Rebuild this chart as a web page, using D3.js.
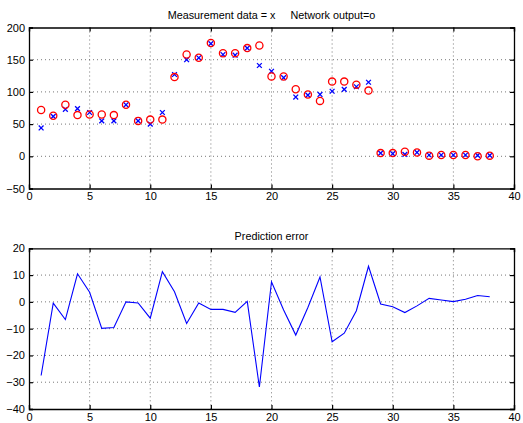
<!DOCTYPE html>
<html>
<head>
<meta charset="utf-8">
<script src="https://cdn.jsdelivr.net/npm/d3@7"></script>
<style>
  body { margin: 0; background: #fff; }
  text { font-family: "Liberation Sans", Arial, sans-serif; }
</style>
</head>
<body>
<div id="container"></div>
<script>
// data
const samples = d3.range(1, 39);
const measured = [44, 62, 73, 74, 68, 55, 55, 80, 55, 50, 68, 127, 150, 153, 175, 158, 157, 168, 141, 132,
  122, 92, 95, 96, 101, 104, 108, 115, 5, 4, 3, 6, 2, 2, 2, 2, 1.5, 1.5];
const network = [72, 63, 80, 64, 65, 65, 64, 80, 55, 57, 57, 123, 158, 153, 176, 160, 160, 168, 172, 124,
  124, 104, 96, 86, 116, 116, 111, 102, 5, 5, 7, 6, 1, 2, 2, 2, 0, 1];
const predError = [-27.5, -0.5, -6.6, 10.5, 3.6, -9.9, -9.6, 0, -0.4, -6.1, 11.3, 3.8, -8.1, -0.4, -2.8, -2.8,
  -3.9, 0.2, -31.8, 7.5, -3, -12.4, -2.1, 9.3, -14.9, -11.7, -3.3, 13.3, -0.8, -1.8, -4, -1.5, 1.3, 0.7,
  0.1, 1, 2.4, 1.9];
const xTicks = [0, 5, 10, 15, 20, 25, 30, 35, 40];
const topTicks = [-50, 0, 50, 100, 150, 200];
const bottomTicks = [-40, -30, -20, -10, 0, 10, 20];

const width = 523, height = 423;
const svg = d3.select("#container").append("svg")
    .attr("width", width).attr("height", height);

const left = 29, right = 514;

function drawPanel(top, bottom, yDomain, yTicks, title, titleY) {
    const x = d3.scaleLinear().domain([0, 40]).range([left, right]);
    const y = d3.scaleLinear().domain(yDomain).range([bottom, top]);
    const g = svg.append("g");

    // dotted grid
    g.selectAll(".vgrid").data(xTicks.slice(1, -1)).enter().append("line")
        .attr("x1", d => x(d)).attr("x2", d => x(d))
        .attr("y1", top).attr("y2", bottom)
        .attr("stroke", "#555").attr("stroke-width", 0.8).attr("stroke-dasharray", "1,3");
    g.selectAll(".hgrid").data(yTicks.slice(1, -1)).enter().append("line")
        .attr("x1", left).attr("x2", right)
        .attr("y1", d => y(d)).attr("y2", d => y(d))
        .attr("stroke", "#555").attr("stroke-width", 0.8).attr("stroke-dasharray", "1,3");

    // axes with inward ticks
    g.append("g").attr("transform", `translate(0,${bottom})`)
        .call(d3.axisBottom(x).tickValues(xTicks).tickSize(-4).tickPadding(4));
    g.append("g").attr("transform", `translate(0,${top})`)
        .call(d3.axisTop(x).tickValues(xTicks).tickSize(-4).tickFormat(""));
    g.append("g").attr("transform", `translate(${left},0)`)
        .call(d3.axisLeft(y).tickValues(yTicks).tickSize(-4).tickPadding(4));
    g.append("g").attr("transform", `translate(${right},0)`)
        .call(d3.axisRight(y).tickValues(yTicks).tickSize(-4).tickFormat(""));
    g.selectAll(".domain").attr("stroke", "#000").attr("stroke-width", 1.3);
    g.selectAll(".tick line").attr("stroke", "#000").attr("stroke-width", 1.2);
    g.selectAll(".tick text").attr("font-size", "11px").attr("fill", "#000")
        .attr("font-family", "Liberation Sans, Arial, sans-serif");

    svg.append("text").attr("x", (left + right) / 2).attr("y", titleY)
        .attr("text-anchor", "middle").attr("font-size", "10.8px").attr("fill", "#000")
        .text(title);
    return { x, y, g };
}

// top panel: measurement vs network output
const p1 = drawPanel(27.5, 188.5, [-50, 200], topTicks,
    "Measurement data = x\u00a0\u00a0\u00a0\u00a0\u00a0Network output=o", 19);
const cs = 2.4;
p1.g.selectAll(".meas").data(samples).enter().append("path")
    .attr("d", (d, i) => {
        const cx = p1.x(d), cy = p1.y(measured[i]);
        return `M${cx - cs},${cy - cs}L${cx + cs},${cy + cs}M${cx - cs},${cy + cs}L${cx + cs},${cy - cs}`;
    })
    .attr("stroke", "#0000ff").attr("stroke-width", 1.3).attr("fill", "none");
p1.g.selectAll(".net").data(samples).enter().append("circle")
    .attr("cx", d => p1.x(d)).attr("cy", (d, i) => p1.y(network[i]))
    .attr("r", 3.6).attr("fill", "none").attr("stroke", "#ff0000").attr("stroke-width", 1.3);

// bottom panel: prediction error
const p2 = drawPanel(248.3, 409, [-40, 20], bottomTicks, "Prediction error", 240);
p2.g.append("path")
    .datum(samples)
    .attr("d", d3.line().x(d => p2.x(d)).y((d, i) => p2.y(predError[i])))
    .attr("fill", "none").attr("stroke", "#0000ff").attr("stroke-width", 1.1);
</script>
</body>
</html>
